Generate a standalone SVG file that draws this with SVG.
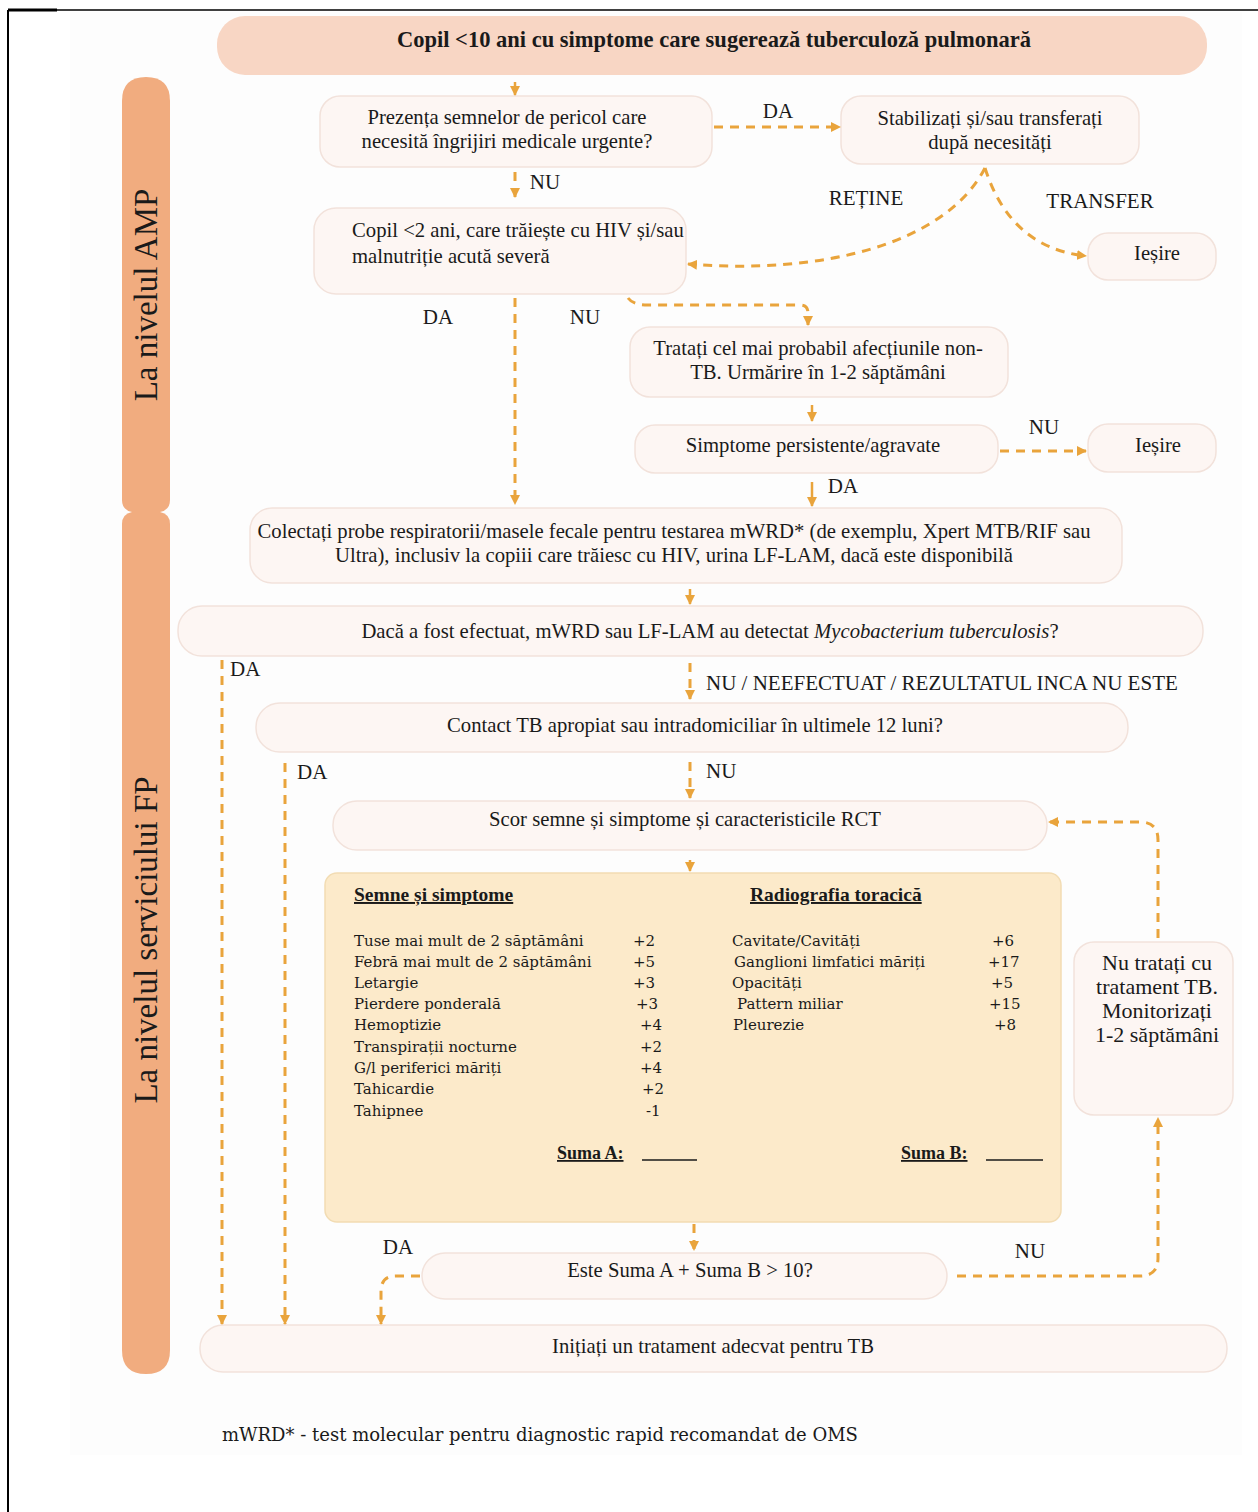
<svg xmlns="http://www.w3.org/2000/svg" width="1258" height="1512" viewBox="0 0 1258 1512">
<defs>
<style>
.node{fill:#FDF6F3;stroke:#F2E2DB;stroke-width:1.5}
.t{font-family:"Liberation Serif","Times New Roman",serif;font-size:20.7px;fill:#1a1a1a}
.c{text-anchor:middle}
.lbl{font-family:"Liberation Serif","Times New Roman",serif;font-size:21px;fill:#1a1a1a}
.side{font-family:"Liberation Serif","Times New Roman",serif;font-size:33px;fill:#1a1a1a;text-anchor:middle}
.sc{font-family:"DejaVu Serif","Liberation Serif",serif;font-size:15px;fill:#1a1a1a}
.sch{font-family:"Liberation Serif","Times New Roman",serif;font-size:19.5px;font-weight:bold;fill:#1a1a1a;text-decoration:underline}
.conn{fill:none;stroke:#E9A43C;stroke-width:3;stroke-dasharray:9 7}
.solid{fill:none;stroke:#E9A43C;stroke-width:2.5}
</style>
<marker id="ah" viewBox="0 0 10 10" refX="9" refY="5" markerWidth="10" markerHeight="10" markerUnits="userSpaceOnUse" orient="auto">
<path d="M0,0 L10,5 L0,10 z" fill="#E9A43C"/>
</marker>
</defs>
<rect x="0" y="0" width="1258" height="1512" fill="#ffffff"/>
<rect x="70" y="12" width="1172" height="1443" fill="#FDFDFD"/>
<g id="frame">
<line x1="8" y1="10" x2="1258" y2="10" stroke="#000" stroke-width="1.5"/>
<line x1="8" y1="10" x2="8" y2="1512" stroke="#000" stroke-width="2"/>
<line x1="8" y1="10" x2="57" y2="10" stroke="#000" stroke-width="3"/>
</g>
<g id="bar-amp">
<path d="M122,101 Q122,77 146,77 Q170,77 170,101 L170,500 Q170,510 160,512 L132,512 Q122,510 122,500 Z" fill="#F1AC7F"/>
<text class="side" transform="translate(157,295) rotate(-90)">La nivelul AMP</text>
</g>
<g id="bar-fp">
<path d="M132,512 L160,512 Q170,514 170,524 L170,1350 Q170,1374 146,1374 Q122,1374 122,1350 L122,524 Q122,514 132,512 Z" fill="#F1AC7F"/>
<text class="side" transform="translate(157,940) rotate(-90)">La nivelul serviciului FP</text>
</g>
<g id="n-start">
<rect x="217" y="16" width="990" height="59" rx="28" fill="#F8D6C4"/>
<text class="t c" x="714" y="47" style="font-weight:bold;font-size:22.5px">Copil &lt;10 ani cu simptome care sugerează tuberculoză pulmonară</text>
</g>
<g id="n-pericol">
<rect class="node" x="320" y="96" width="392" height="71" rx="20"/>
<text class="t c" x="507" y="124">Prezența semnelor de pericol care</text>
<text class="t c" x="507" y="148">necesită îngrijiri medicale urgente?</text>
</g>
<g id="n-stabil">
<rect class="node" x="841" y="96" width="298" height="68" rx="20"/>
<text class="t c" x="990" y="125">Stabilizați și/sau transferați</text>
<text class="t c" x="990" y="149">după necesități</text>
</g>
<g id="n-copil2">
<rect class="node" x="314" y="208" width="372" height="86" rx="22"/>
<text class="t" x="352" y="237">Copil &lt;2 ani, care trăiește cu HIV și/sau</text>
<text class="t" x="352" y="263">malnutriție acută severă</text>
</g>
<g id="n-iesire1">
<rect class="node" x="1088" y="233" width="128" height="47" rx="20"/>
<text class="t c" x="1157" y="260">Ieșire</text>
</g>
<g id="n-tratati">
<rect class="node" x="630" y="327" width="378" height="70" rx="20"/>
<text class="t c" x="818" y="355">Tratați cel mai probabil afecțiunile non-</text>
<text class="t c" x="818" y="379">TB. Urmărire în 1-2 săptămâni</text>
</g>
<g id="n-simptome">
<rect class="node" x="635" y="425" width="363" height="48" rx="20"/>
<text class="t c" x="813" y="452">Simptome persistente/agravate</text>
</g>
<g id="n-iesire2">
<rect class="node" x="1088" y="424" width="128" height="48" rx="20"/>
<text class="t c" x="1158" y="452">Ieșire</text>
</g>
<g id="n-colectati">
<rect class="node" x="250" y="508" width="872" height="75" rx="22"/>
<text class="t c" x="674" y="538">Colectați probe respiratorii/masele fecale pentru testarea mWRD* (de exemplu, Xpert MTB/RIF sau</text>
<text class="t c" x="674" y="562">Ultra), inclusiv la copiii care trăiesc cu HIV, urina LF-LAM, dacă este disponibilă</text>
</g>
<g id="n-detectat">
<rect class="node" x="178" y="606" width="1025" height="50" rx="24"/>
<text class="t c" x="710" y="638">Dacă a fost efectuat, mWRD sau LF-LAM au detectat <tspan font-style="italic">Mycobacterium tuberculosis</tspan>?</text>
</g>
<g id="n-contact">
<rect class="node" x="256" y="703" width="872" height="49" rx="24"/>
<text class="t c" x="695" y="732">Contact TB apropiat sau intradomiciliar în ultimele 12 luni?</text>
</g>
<g id="n-scor">
<rect class="node" x="333" y="801" width="714" height="49" rx="24"/>
<text class="t c" x="685" y="826">Scor semne și simptome și caracteristicile RCT</text>
</g>
<g id="n-scorebox">
<rect x="325" y="873" width="736" height="349" rx="12" fill="#FCEACA" stroke="#F2DCB3" stroke-width="1.5"/>
<text class="sch" x="354" y="901">Semne și simptome</text>
<text class="sch" x="750" y="901">Radiografia toracică</text>
<text class="sc" x="354" y="946">Tuse mai mult de 2 săptămâni</text><text class="sc" x="633" y="946">+2</text>
<text class="sc" x="354" y="967">Febră mai mult de 2 săptămâni</text><text class="sc" x="633" y="967">+5</text>
<text class="sc" x="354" y="988">Letargie</text><text class="sc" x="633" y="988">+3</text>
<text class="sc" x="354" y="1009">Pierdere ponderală</text><text class="sc" x="636" y="1009">+3</text>
<text class="sc" x="354" y="1030">Hemoptizie</text><text class="sc" x="640" y="1030">+4</text>
<text class="sc" x="354" y="1052">Transpirații nocturne</text><text class="sc" x="640" y="1052">+2</text>
<text class="sc" x="354" y="1073">G/l periferici măriți</text><text class="sc" x="640" y="1073">+4</text>
<text class="sc" x="354" y="1094">Tahicardie</text><text class="sc" x="642" y="1094">+2</text>
<text class="sc" x="354" y="1116">Tahipnee</text><text class="sc" x="646" y="1116">-1</text>
<text class="sc" x="732" y="946">Cavitate/Cavități</text><text class="sc" x="992" y="946">+6</text>
<text class="sc" x="734" y="967">Ganglioni limfatici măriți</text><text class="sc" x="988" y="967">+17</text>
<text class="sc" x="732" y="988">Opacități</text><text class="sc" x="991" y="988">+5</text>
<text class="sc" x="737" y="1009">Pattern miliar</text><text class="sc" x="989" y="1009">+15</text>
<text class="sc" x="733" y="1030">Pleurezie</text><text class="sc" x="994" y="1030">+8</text>
<text class="sch" x="557" y="1159" style="font-size:18px">Suma A:</text>
<line x1="642" y1="1160" x2="697" y2="1160" stroke="#1a1a1a" stroke-width="1.5"/>
<text class="sch" x="901" y="1159" style="font-size:18px">Suma B:</text>
<line x1="986" y1="1160" x2="1043" y2="1160" stroke="#1a1a1a" stroke-width="1.5"/>
</g>
<g id="n-nutratati">
<rect class="node" x="1074" y="942" width="159" height="173" rx="20"/>
<text class="t c" x="1157" y="970" style="font-size:22px">Nu tratați cu</text>
<text class="t c" x="1157" y="994" style="font-size:22px">tratament TB.</text>
<text class="t c" x="1157" y="1018" style="font-size:22px">Monitorizați</text>
<text class="t c" x="1157" y="1042" style="font-size:22px">1-2 săptămâni</text>
</g>
<g id="n-suma">
<rect class="node" x="422" y="1253" width="525" height="46" rx="23"/>
<text class="t c" x="690" y="1277">Este Suma A + Suma B &gt; 10?</text>
</g>
<g id="n-initiati">
<rect class="node" x="200" y="1325" width="1027" height="47" rx="23"/>
<text class="t c" x="713" y="1353">Inițiați un tratament adecvat pentru TB</text>
</g>
<g id="connectors">
<path class="solid" d="M515,82 L515,95" marker-end="url(#ah)"/>
<path class="conn" d="M714,127 L840,127" marker-end="url(#ah)"/>
<path class="conn" d="M515,172 L515,197" marker-end="url(#ah)"/>
<path class="conn" d="M985,168 C945,245 820,275 688,264" marker-end="url(#ah)"/>
<path class="conn" d="M985,168 C1000,215 1030,250 1086,256" marker-end="url(#ah)"/>
<path class="conn" d="M515,298 L515,504" marker-end="url(#ah)"/>
<path class="conn" d="M628,298 Q633,305 648,305 L800,305 Q808,305 808,313 L808,325" marker-end="url(#ah)"/>
<path class="solid" d="M812,405 L812,421" marker-end="url(#ah)"/>
<path class="conn" d="M1000,451 L1086,451" marker-end="url(#ah)"/>
<path class="solid" d="M812,482 L812,506" marker-end="url(#ah)"/>
<path class="solid" d="M690,589 L690,604" marker-end="url(#ah)"/>
<path class="conn" d="M690,663 L690,699" marker-end="url(#ah)"/>
<path class="conn" d="M222,660 L222,1324" marker-end="url(#ah)"/>
<path class="conn" d="M690,762 L690,798" marker-end="url(#ah)"/>
<path class="conn" d="M285,763 L285,1324" marker-end="url(#ah)"/>
<path class="solid" d="M690,860 L690,871" marker-end="url(#ah)"/>
<path class="conn" d="M694,1224 L694,1250" marker-end="url(#ah)"/>
<path class="conn" d="M420,1276 L396,1276 Q381,1276 381,1291 L381,1324" marker-end="url(#ah)"/>
<path class="conn" d="M957,1276 L1140,1276 Q1158,1276 1158,1258 L1158,1118" marker-end="url(#ah)"/>
<path class="conn" d="M1158,938 L1158,840 Q1158,822 1140,822 L1049,822" marker-end="url(#ah)"/>
<text class="lbl" x="778" y="118" text-anchor="middle">DA</text>
<text class="lbl" x="545" y="189" text-anchor="middle">NU</text>
<text class="lbl" x="866" y="205" text-anchor="middle">REȚINE</text>
<text class="lbl" x="1100" y="208" text-anchor="middle">TRANSFER</text>
<text class="lbl" x="438" y="324" text-anchor="middle">DA</text>
<text class="lbl" x="585" y="324" text-anchor="middle">NU</text>
<text class="lbl" x="1044" y="434" text-anchor="middle">NU</text>
<text class="lbl" x="843" y="493" text-anchor="middle">DA</text>
<text class="lbl" x="230" y="676">DA</text>
<text class="lbl" x="706" y="690">NU / NEEFECTUAT / REZULTATUL INCA NU ESTE</text>
<text class="lbl" x="297" y="779">DA</text>
<text class="lbl" x="706" y="778">NU</text>
<text class="lbl" x="398" y="1254" text-anchor="middle">DA</text>
<text class="lbl" x="1030" y="1258" text-anchor="middle">NU</text>
</g>
<text x="222" y="1441" style="font-family:'DejaVu Serif','Liberation Serif',serif;font-size:18px;fill:#1a1a1a">mWRD* - test molecular pentru diagnostic rapid recomandat de OMS</text>
</svg>
